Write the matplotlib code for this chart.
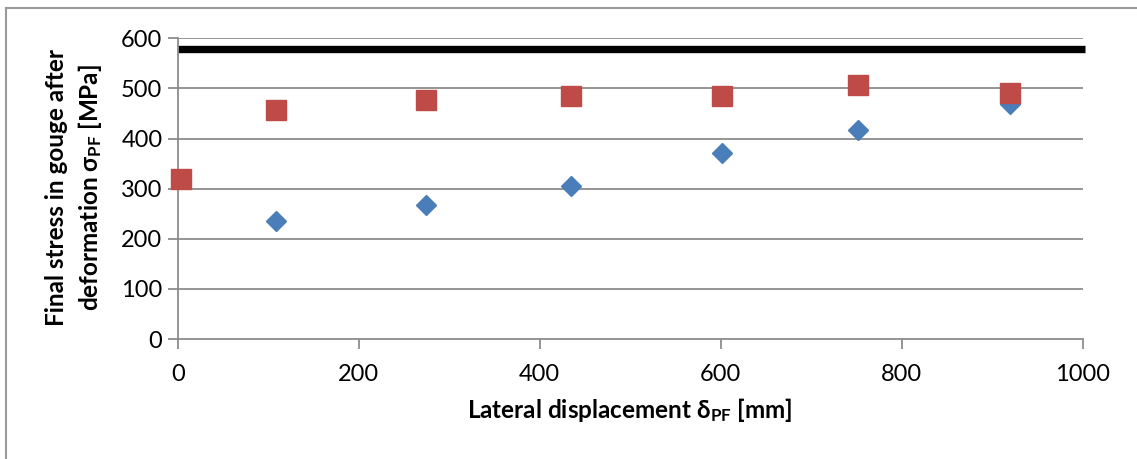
import matplotlib
matplotlib.use("Agg")
import matplotlib.pyplot as plt
from matplotlib.lines import Line2D

plt.rcParams['font.family'] = ['Lato', 'DejaVu Sans']
plt.rcParams['mathtext.fontset'] = 'custom'
plt.rcParams['mathtext.rm'] = 'Lato'
plt.rcParams['mathtext.bf'] = 'Lato:bold'
plt.rcParams['mathtext.it'] = 'Lato:italic'

# Data
red_x = [4, 109, 274, 435, 601, 752, 920]
red_y = [320, 457, 477, 485, 485, 507, 491]
blue_x = [109, 274, 435, 601, 752, 920]
blue_y = [236, 267, 305, 372, 417, 469]
limit_x = [0, 1003]
limit_y = [579, 579]
x_ticks = [0, 200, 400, 600, 800, 1000]
y_ticks = [0, 100, 200, 300, 400, 500, 600]

W, H = 1137, 459
fig = plt.figure(figsize=(W / 100, H / 100), dpi=100)
ax = fig.add_axes([177.7 / W, 1 - 339 / H, (1082.7 - 177.7) / W, (339 - 38.3) / H])

grid_c = '#8c8c8c'
for y in y_ticks[1:]:
    ax.axhline(y, color=grid_c, lw=1.3, zorder=1)

ax.plot(limit_x, limit_y, color='black', lw=5.3, solid_capstyle='butt', zorder=2, clip_on=False)
ax.plot(blue_x, blue_y, linestyle='none', marker='D', ms=10.2, color='#4a7ebb', mec='#4a7ebb',
        zorder=3, clip_on=False)
ax.plot(red_x, red_y, linestyle='none', marker='s', ms=14.4, color='#be4b48', mec='#be4b48',
        zorder=4, clip_on=False)

ax.set_xlim(0, 1000)
ax.set_ylim(0, 600)
ax.set_xticks(x_ticks)
ax.set_yticks(y_ticks)
ax.tick_params(axis='both', direction='out', length=7, width=1.3, color=grid_c,
               labelsize=17, labelcolor='black')
ax.tick_params(axis='y', pad=4)
ax.tick_params(axis='x', pad=11)
for s in ['top', 'right']:
    ax.spines[s].set_visible(False)
for s in ['left', 'bottom']:
    ax.spines[s].set_color(grid_c)
    ax.spines[s].set_linewidth(1.3)

ax.set_xlabel('Lateral displacement δ$_{\\mathbf{PF}}$ [mm]', fontsize=17.5, fontweight='bold', labelpad=8)
fig.text(56 / W, 1 - 188 / H, 'Final stress in gouge after', rotation=90, ha='center', va='center',
         fontsize=17.5, fontweight='bold')
fig.text(90 / W, 1 - 188 / H, 'deformation σ$_{\\mathbf{PF}}$ [MPa]', rotation=90, ha='center', va='center',
         fontsize=17.5, fontweight='bold')

# chart border (top and left visible)
fig.add_artist(Line2D([5.5 / W, 1.0], [1 - 8 / H, 1 - 8 / H], color='#9a9a9a', lw=1.5, transform=fig.transFigure))
fig.add_artist(Line2D([5.5 / W, 5.5 / W], [0, 1 - 8 / H], color='#9a9a9a', lw=1.5, transform=fig.transFigure))

fig.savefig('out.png', dpi=100)
